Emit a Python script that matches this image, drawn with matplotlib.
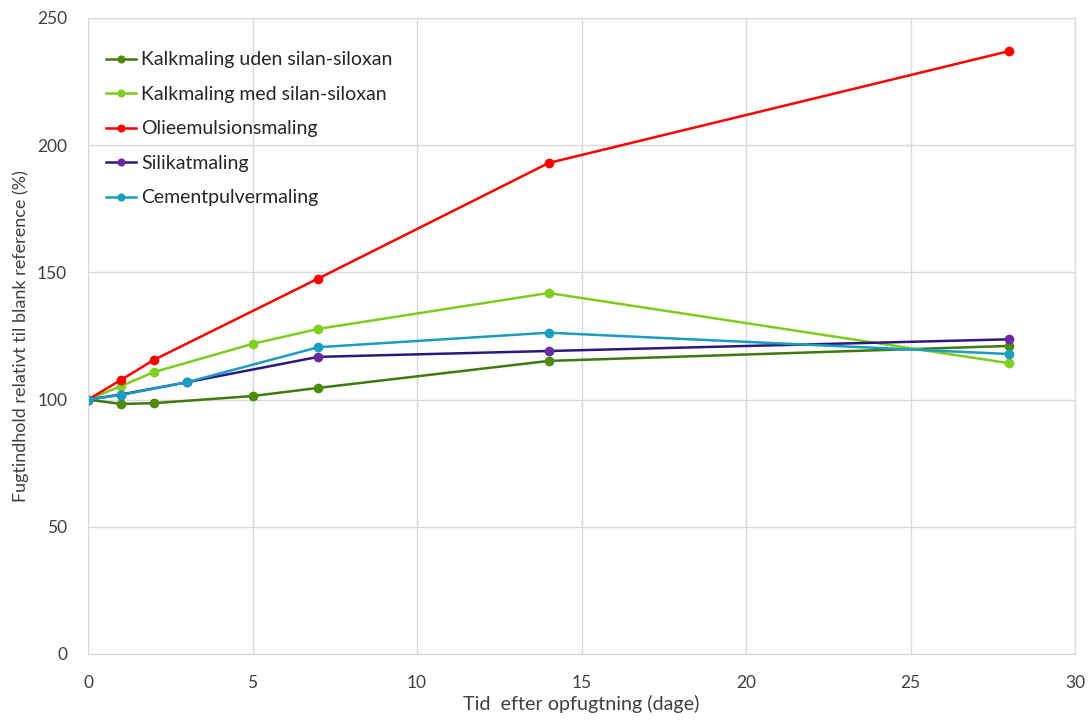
import matplotlib
matplotlib.use('Agg')
import matplotlib.pyplot as plt

# --- data ---
labels = ['Kalkmaling uden silan-siloxan', 'Kalkmaling med silan-siloxan',
          'Olieemulsionsmaling', 'Silikatmaling', 'Cementpulvermaling']

days_uden = [0, 1, 2, 5, 7, 14, 28]
uden = [100, 98.3, 98.6, 101.4, 104.6, 115.2, 121.1]

days_med = [0, 1, 2, 5, 7, 14, 28]
med = [100, 105.3, 110.8, 121.9, 127.8, 141.9, 114.3]

days_olie = [0, 1, 2, 7, 14, 28]
olie = [100, 107.7, 115.6, 147.6, 193.0, 237.0]

days_silikat = [0, 1, 3, 7, 14, 28]
silikat = [100, 102.0, 106.8, 116.8, 119.1, 123.7]

days_cement = [0, 1, 3, 7, 14, 28]
cement = [100, 101.8, 106.8, 120.6, 126.3, 117.9]

line_colors = ['#3f7a0f', '#7ccc1c', '#ff0000', '#2a1a80', '#1a9dc0']
marker_colors = ['#4e8a10', '#80d020', '#ff0000', '#6a2aa0', '#1a9dc0']

plt.rcParams['font.family'] = ['Lato', 'DejaVu Sans']

fig = plt.figure(figsize=(10.9, 7.22), dpi=100)
ax = fig.add_axes([88 / 1090, 68 / 722, 987 / 1090, 636 / 722])

series = [(days_uden, uden), (days_med, med), (days_olie, olie),
          (days_silikat, silikat), (days_cement, cement)]
for (x, y), lab, lc, mc in zip(series, labels, line_colors, marker_colors):
    ax.plot(x, y, color=lc, linewidth=1.8, marker='o', markersize=6,
            markerfacecolor=mc, markeredgecolor=mc, label=lab)

ax.set_xlim(0, 30)
ax.set_ylim(0, 250)
ax.set_xticks(range(0, 31, 5))
ax.set_yticks(range(0, 251, 50))
ax.grid(True, color='#d9d9d9', linewidth=1)
ax.set_axisbelow(True)
for s in ax.spines.values():
    s.set_color('#d9d9d9')
ax.tick_params(axis='y', length=0, labelsize=12.5, colors='#404040', pad=15)
ax.tick_params(axis='x', length=0, labelsize=12.5, colors='#404040', pad=15)

ax.set_xlabel('Tid  efter opfugtning (dage)', fontsize=14.2, color='#404040', labelpad=3)
ax.set_ylabel('Fugtindhold relativt til blank reference (%)', fontsize=13,
              color='#404040', labelpad=6)

leg = ax.legend(loc='upper left', bbox_to_anchor=(0.0, 0.975), frameon=False,
                fontsize=14, handlelength=1.55, labelspacing=0.9,
                handletextpad=0.3, markerscale=0.8)
for t in leg.get_texts():
    t.set_color('#262626')

fig.savefig('out.png', dpi=100)
